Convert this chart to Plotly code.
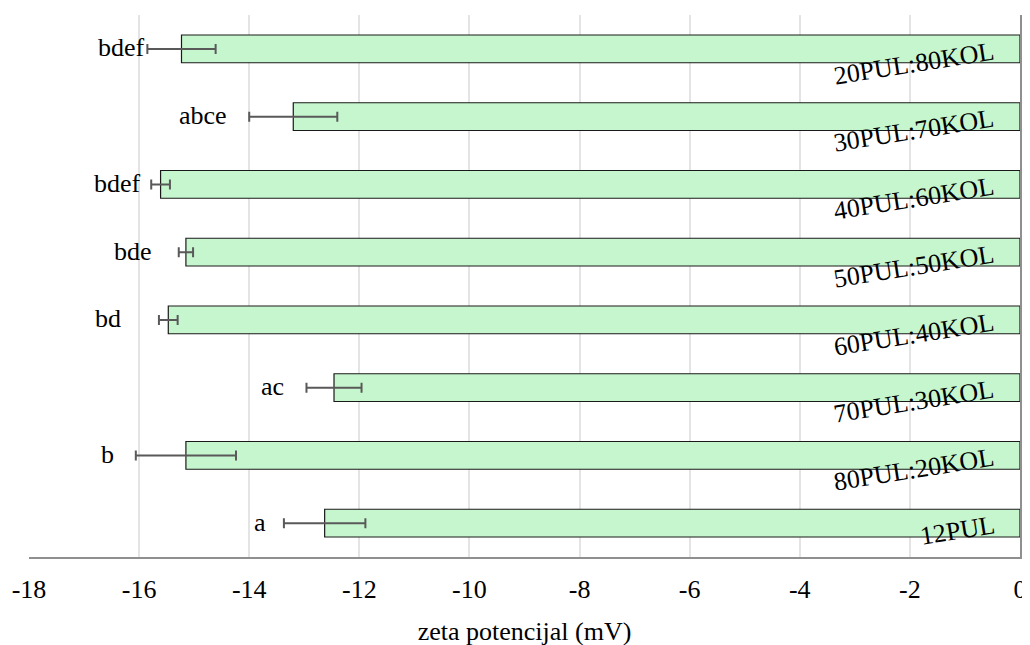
import plotly.graph_objects as go

categories = ["20PUL:80KOL", "30PUL:70KOL", "40PUL:60KOL", "50PUL:50KOL",
              "60PUL:40KOL", "70PUL:30KOL", "80PUL:20KOL", "12PUL"]
zeta_values = [-15.23, -13.20, -15.61, -15.15, -15.47, -12.46, -15.15, -12.63]
zeta_errors = [0.62, 0.80, 0.17, 0.13, 0.17, 0.50, 0.91, 0.74]
letters = ["bdef", "abce", "bdef", "bde", "bd", "ac", "b", "a"]
letter_x = [-15.91, -14.42, -15.98, -15.79, -16.35, -13.38, -16.47, -13.72]
x_ticks = [-18, -16, -14, -12, -10, -8, -6, -4, -2, 0]

FONT = "Liberation Serif"
FS = 26

fig = go.Figure()
fig.add_trace(go.Bar(
    y=categories, x=zeta_values, orientation="h",
    marker=dict(color="#C6F6CE", line=dict(color="#1a1a1a", width=1.2)),
    error_x=dict(type="data", array=zeta_errors, visible=True,
                 color="#595959", thickness=2, width=5),
    showlegend=False,
))

for cat, lab, lx in zip(categories, letters, letter_x):
    fig.add_annotation(x=lx, y=cat, text=lab, showarrow=False,
                       xanchor="right", yanchor="middle", xshift=3, yshift=1,
                       font=dict(family=FONT, size=FS, color="black"))

for cat in categories:
    fig.add_annotation(x=0, y=cat, text=cat, showarrow=False,
                       textangle=-9, xanchor="right", yanchor="top",
                       xshift=-21, yshift=15,
                       font=dict(family=FONT, size=FS, color="black"))

fig.update_layout(
    width=1030, height=645,
    margin=dict(l=21, r=18, t=7, b=96),
    paper_bgcolor="white", plot_bgcolor="white",
    bargap=0.59,
    font=dict(family=FONT, size=FS, color="black"),
)
fig.update_xaxes(
    range=[-18, 0], autorange=False,
    tickvals=x_ticks, ticktext=[str(v) for v in x_ticks],
    showgrid=True, gridcolor="#e4e4e4", gridwidth=1.5,
    zeroline=False, showline=True, linecolor="#8f8f8f", linewidth=1.5,
    ticks="", ticklabelstandoff=8, automargin=False,
    tickfont=dict(family=FONT, size=FS, color="black"),
    title=dict(text="zeta potencijal (mV)", standoff=19,
               font=dict(family=FONT, size=FS, color="black")),
)
fig.update_yaxes(
    categoryorder="array", categoryarray=categories,
    range=[len(categories) - 0.5, -0.5], autorange=False,
    showticklabels=False, showgrid=False, zeroline=False,
    showline=True, side="right", linecolor="#8f8f8f", linewidth=1.5,
    ticks="",
)

fig.write_html("out.html")
